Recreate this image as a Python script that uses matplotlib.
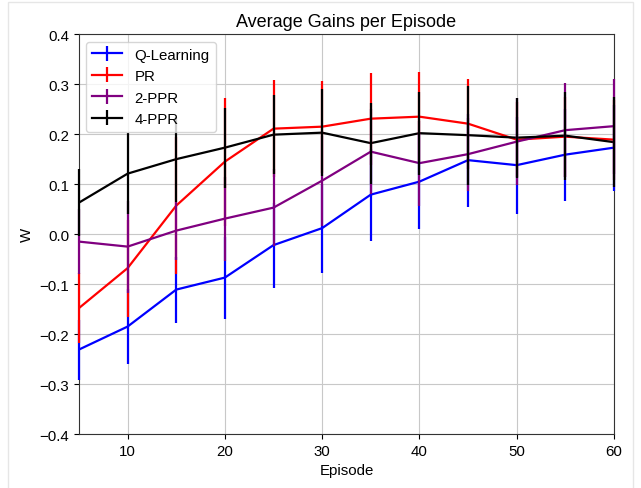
import numpy as np
import matplotlib
matplotlib.use("Agg")
import matplotlib.pyplot as plt
from matplotlib.ticker import FuncFormatter

plt.rcParams['font.family'] = ['Liberation Sans', 'DejaVu Sans']
plt.rcParams['font.size'] = 10.8

episodes = [5, 10, 15, 20, 25, 30, 35, 40, 45, 50, 55, 60]

q_mean = [-0.231, -0.185, -0.111, -0.087, -0.022, 0.012, 0.079, 0.105, 0.148, 0.138, 0.159, 0.173]
q_err = [0.060, 0.075, 0.066, 0.082, 0.085, 0.089, 0.092, 0.095, 0.093, 0.097, 0.092, 0.086]

pr_mean = [-0.148, -0.068, 0.057, 0.145, 0.211, 0.215, 0.231, 0.235, 0.221, 0.189, 0.195, 0.189]
pr_err = [0.070, 0.097, 0.137, 0.128, 0.097, 0.092, 0.092, 0.090, 0.090, 0.075, 0.080, 0.080]

ppr2_mean = [-0.015, -0.025, 0.007, 0.031, 0.053, 0.107, 0.165, 0.142, 0.160, 0.185, 0.208, 0.216]
ppr2_err = [0.065, 0.092, 0.058, 0.084, 0.077, 0.090, 0.085, 0.085, 0.073, 0.087, 0.094, 0.095]

ppr4_mean = [0.063, 0.121, 0.150, 0.173, 0.199, 0.203, 0.182, 0.202, 0.198, 0.193, 0.197, 0.184]
ppr4_err = [0.067, 0.081, 0.085, 0.080, 0.079, 0.087, 0.081, 0.083, 0.099, 0.080, 0.088, 0.090]


def fmt(v, pos):
    s = f"{v:.1f}"
    if s == "-0.0":
        s = "0.0"
    return s.replace("-", "\u2212")


fig = plt.figure(figsize=(6.41, 4.89), dpi=100)
# faint screenshot frame
fig.patches.append(plt.Rectangle((0.013, -0.01), 0.975, 1.003, transform=fig.transFigure,
                                 fill=False, ec="#e6e6e6", lw=1))
ax = fig.add_axes([0.1232, 0.1104, 0.8346, 0.8176])

series = [
    (q_mean, q_err, "blue", "Q-Learning"),
    (pr_mean, pr_err, "red", "PR"),
    (ppr2_mean, ppr2_err, "purple", "2-PPR"),
    (ppr4_mean, ppr4_err, "black", "4-PPR"),
]
for mean, err, col, name in series:
    cont = ax.errorbar(episodes, mean, yerr=err, color=col, label=name, lw=1.6)
    for art in cont.lines[2]:
        art.set_clip_on(False)
        art.set_zorder(2.6)

ax.set_xlim(5, 60)
ax.set_ylim(-0.4, 0.4)
ax.set_yticks(np.arange(-0.4, 0.41, 0.1))
ax.yaxis.set_major_formatter(FuncFormatter(fmt))
ax.grid(True, color="#c8c8c8")
for sp in ax.spines.values():
    sp.set_color("#333333")
ax.set_title("Average Gains per Episode", fontsize=13)
ax.set_xlabel("Episode")
ax.set_ylabel("W")
ax.legend(loc="upper left")

fig.savefig("out.png", dpi=100)
